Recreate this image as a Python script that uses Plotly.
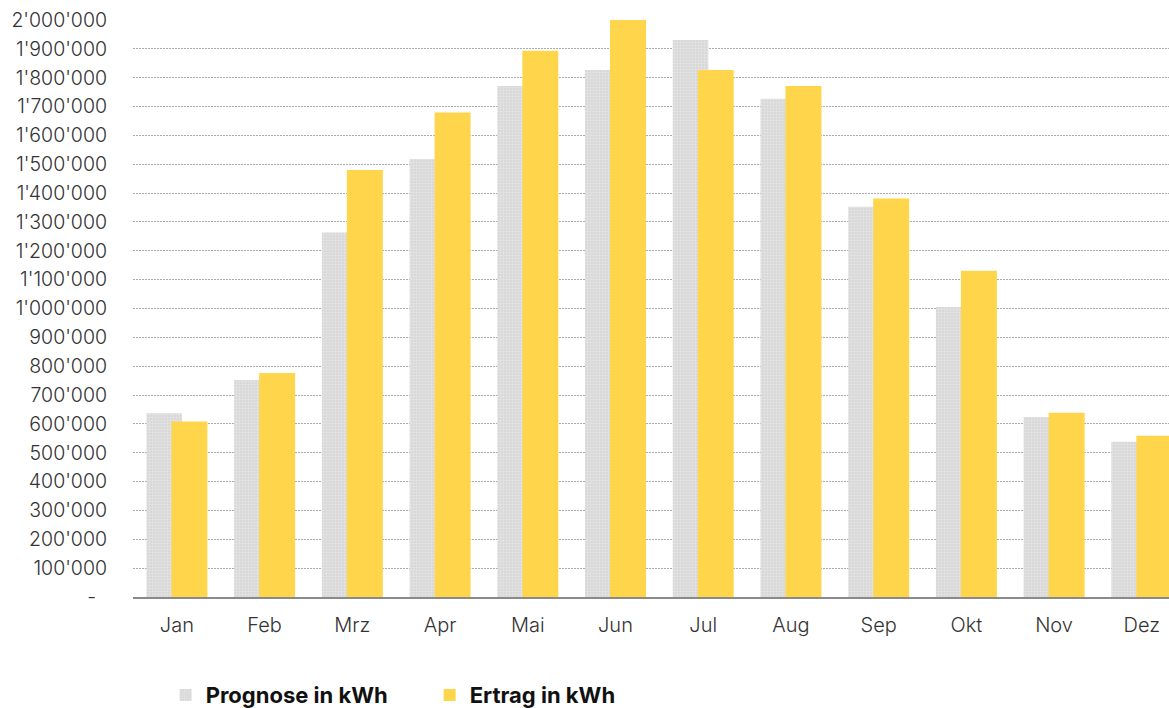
import plotly.graph_objects as go

# Monthly energy: forecast vs. actual yield (kWh)
months = ["Jan", "Feb", "Mrz", "Apr", "Mai", "Jun", "Jul", "Aug", "Sep", "Okt", "Nov", "Dez"]
prognose = [637000, 752000, 1263000, 1518000, 1771000, 1827000, 1931000, 1727000, 1353000, 1005000, 624000, 538000]
ertrag = [608000, 776000, 1480000, 1679000, 1893000, 2000000, 1827000, 1771000, 1381000, 1131000, 639000, 559000]

y_ticks = list(range(0, 2000001, 100000))


def fmt_tick(v):
    if v == 0:
        return "-\u00a0\u00a0"
    return f"{v:,}".replace(",", "'")


y_ticktext = [fmt_tick(v) for v in y_ticks]

FONT = "Inter, Roboto, Arial, sans-serif"

fig = go.Figure()
fig.add_trace(go.Bar(
    name="Prognose in kWh",
    x=list(range(len(months))),
    y=prognose,
    width=0.405,
    offset=-0.347,
    marker=dict(
        color="#dcdcdc",
        line=dict(width=0),
        pattern=dict(shape="+", fgcolor="#efefef", bgcolor="#d8d8d8", size=3, solidity=0.4),
    ),
))
fig.add_trace(go.Bar(
    name="Ertrag in kWh",
    x=list(range(len(months))),
    y=ertrag,
    width=0.41,
    offset=-0.062,
    marker=dict(color="#FFD54B", line=dict(width=0)),
))

fig.update_layout(
    width=1169,
    height=708,
    barmode="overlay",
    plot_bgcolor="white",
    paper_bgcolor="white",
    margin=dict(l=133, r=0, t=20, b=111, autoexpand=False),
    font=dict(family=FONT, size=19, color="#333333", weight=300),
    showlegend=True,
    legend=dict(
        orientation="h",
        x=0.0315,
        xanchor="left",
        y=-0.17,
        yanchor="middle",
        font=dict(family=FONT, size=22, color="#111111", weight="bold"),
        entrywidth=219,
        entrywidthmode="pixels",
        itemsizing="constant",
    ),
)

fig.update_xaxes(
    range=[-0.5, 11.31],
    tickmode="array",
    tickvals=list(range(len(months))),
    ticktext=months,
    showgrid=False,
    showline=True,
    linecolor="#8a8a8a",
    linewidth=2,
    ticks="",
    ticklabelstandoff=9,
    tickfont=dict(family=FONT, size=20, color="#333333", weight=300),
)

fig.update_yaxes(
    range=[0, 2000000],
    tickmode="array",
    tickvals=y_ticks,
    ticktext=y_ticktext,
    showgrid=True,
    gridcolor="#ababab",
    griddash="1.5px,1.5px",
    gridwidth=1,
    zeroline=False,
    showline=False,
    ticks="",
    ticklabelstandoff=25,
    tickfont=dict(family=FONT, size=19.5, color="#333333", weight=300),
)

fig.write_html("out.html")
